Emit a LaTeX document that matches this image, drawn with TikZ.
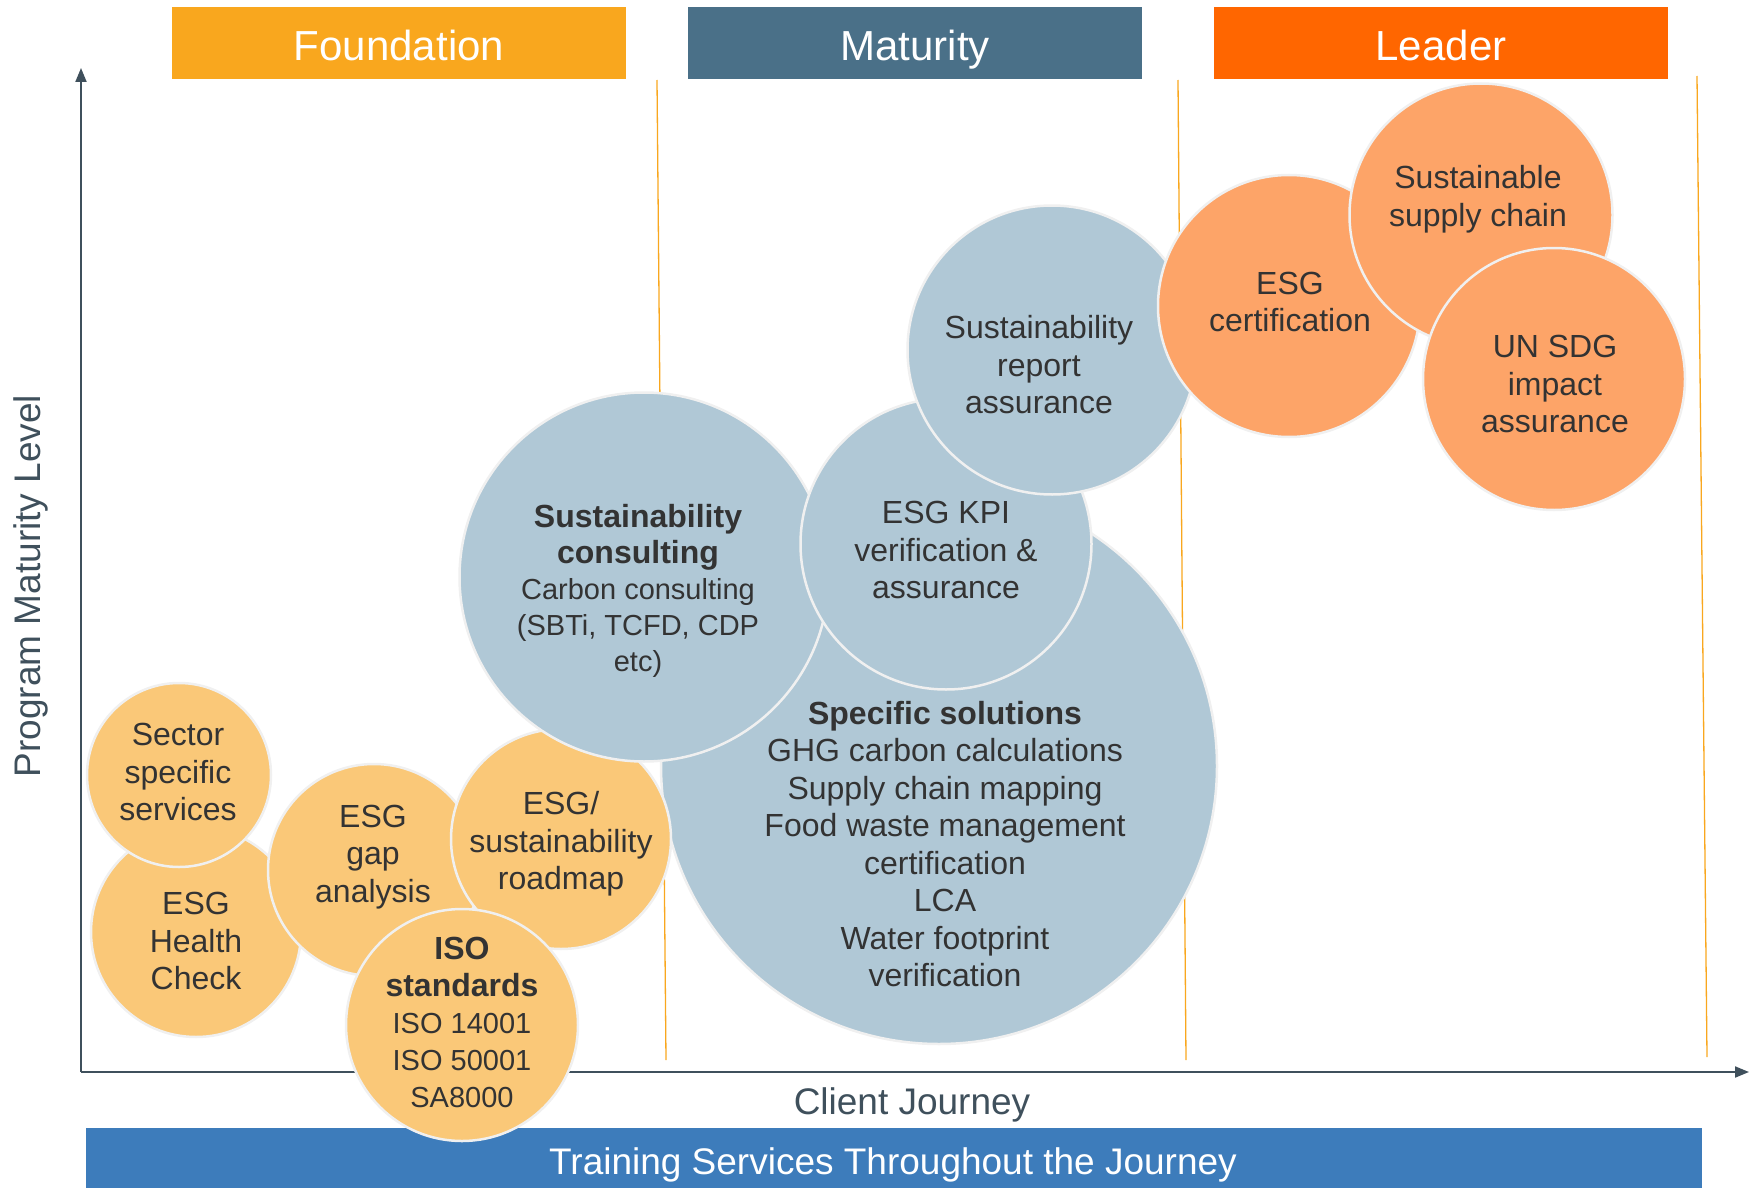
\documentclass[tikz,border=0pt]{standalone}
\usepackage{fontspec}
\setmainfont{Liberation Sans}
\usetikzlibrary{arrows.meta}

\definecolor{foundYellow}{RGB}{249,167,30}
\definecolor{matBlue}{RGB}{74,112,136}
\definecolor{leadOrange}{RGB}{255,102,0}
\definecolor{trainBlue}{RGB}{61,124,187}
\definecolor{axisGray}{RGB}{63,80,92}
\definecolor{textGray}{RGB}{51,51,51}
\definecolor{rimGray}{RGB}{240,240,240}
\definecolor{sandFill}{RGB}{250,200,120}
\definecolor{mistFill}{RGB}{176,200,214}
\definecolor{peachFill}{RGB}{253,164,104}

\newcommand{\subline}[1]{{\fontsize{29}{36}\selectfont #1}}

\begin{document}
\begin{tikzpicture}[x=1pt,y=-1pt,
  phase/.style={minimum width=454,minimum height=72,inner sep=0pt,text height=40pt,text depth=4pt,text=white,font=\fontsize{42}{50}\selectfont},
  bubble/.style={circle,draw=rimGray,line width=2.5pt,inner sep=0pt,minimum size=#1},
  bubtext/.style={align=center,text=textGray,font=\fontsize{32}{37.5}\selectfont}]
\useasboundingbox (0,0) rectangle (1749,1188);

% Phase headers
\node[phase,fill=foundYellow] (found) at (399,43) {Foundation};
\node[phase,fill=matBlue] (matur) at (915,43) {Maturity};
\node[phase,fill=leadOrange] (lead) at (1441,43) {Leader};

% Phase dividers
\draw[foundYellow,line width=1.3pt] (657,80) -- (666,1060);
\draw[foundYellow,line width=1.3pt] (1178,80) -- (1186,1060);
\draw[foundYellow,line width=1.3pt] (1697,76) -- (1707,1057);

% Axes
\coordinate (origin) at (81,1072);
\coordinate (ytop) at (81,68);
\coordinate (xend) at (1749,1072);
\draw[axisGray,line width=2pt,-{Triangle[length=14pt,width=11pt]}] (origin) -- (ytop);
\draw[axisGray,line width=2pt,-{Triangle[length=14pt,width=11pt]}] (origin) -- (xend);
\node[rotate=90,text=axisGray,font=\fontsize{37}{44}\selectfont] (ylab) at (31,586) {Program Maturity Level};
\node[text=axisGray,font=\fontsize{37}{44}\selectfont] (xlab) at (912,1105) {Client Journey};

% Training bar
\node[fill=trainBlue,minimum width=1616,minimum height=61,inner sep=0pt] (train) at (894,1158) {};
\node[text=white,font=\fontsize{37}{44}\selectfont] (train-t) at (893,1165) {Training Services Throughout the Journey};

% Foundation bubbles
\node[bubble=210,fill=sandFill] (health) at (196,932) {};
\node[bubtext] (health-t) at (196,941) {ESG\\Health\\Check};
\node[bubble=184,fill=sandFill] (sector) at (179,775) {};
\node[bubtext] (sector-t) at (178,772) {Sector\\specific\\services};
\node[bubble=212,fill=sandFill] (gap) at (374,870) {};
\node[bubtext] (gap-t) at (373,857) {ESG\\gap\\analysis};

% Maturity bubbles
\node[bubble=556,fill=mistFill] (spec) at (939,766) {};
\node[bubtext] (spec-t) at (945,844) {\textbf{Specific solutions}\\GHG carbon calculations\\Supply chain mapping\\Food waste management\\certification\\LCA\\Water footprint\\verification};
\node[bubble=220,fill=sandFill] (road) at (561,839) {};
\node[bubtext] (road-t) at (561,844) {ESG/\\sustainability\\roadmap};
\node[bubble=232,fill=sandFill] (iso) at (462,1025) {};
\node[bubtext,font=\fontsize{32}{37}\selectfont] (iso-t) at (462,1022) {\textbf{ISO}\\\textbf{standards}\\\subline{ISO 14001}\\\subline{ISO 50001}\\\subline{SA8000}};
\node[bubble=369,fill=mistFill] (consult) at (644,577) {};
\node[bubtext,font=\fontsize{32}{36}\selectfont] (consult-t) at (638,591) {\textbf{Sustainability}\\\textbf{consulting}\\\subline{Carbon consulting}\\\subline{(SBTi, TCFD, CDP}\\\subline{etc)}};
\node[bubble=291,fill=mistFill] (kpi) at (946,544) {};
\node[bubtext] (kpi-t) at (946,550) {ESG KPI\\verification \&\\assurance};
\node[bubble=289,fill=mistFill] (report) at (1052,350) {};
\node[bubtext] (report-t) at (1039,365) {Sustainability\\report\\assurance};

% Leader bubbles
\node[bubble=262,fill=peachFill] (cert) at (1289,306) {};
\node[bubtext] (cert-t) at (1290,302) {ESG\\certification};
\node[bubble=263,fill=peachFill] (supply) at (1481,215) {};
\node[bubtext] (supply-t) at (1478,199) {Sustainable\\supply chain};
\node[bubble=262,fill=peachFill] (sdg) at (1554,379) {};
\node[bubtext] (sdg-t) at (1555,384) {UN SDG\\impact\\assurance};
\end{tikzpicture}
\end{document}
